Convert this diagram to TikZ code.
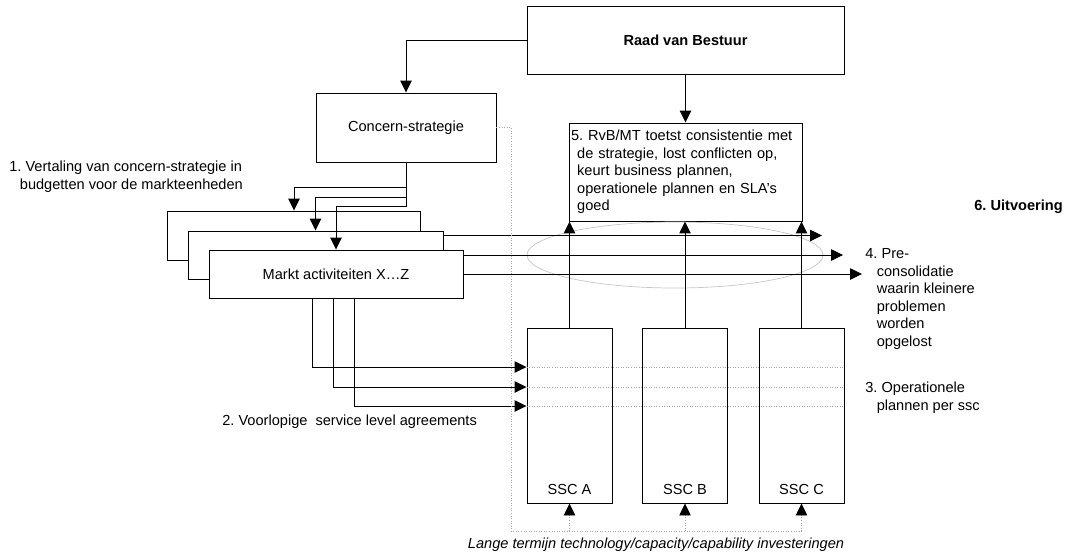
\documentclass[tikz,border=0pt]{standalone}
\usepackage{fontspec}
\setmainfont{Liberation Sans}
\usetikzlibrary{arrows.meta, positioning, shapes.geometric}
\frenchspacing

\begin{document}
\begin{tikzpicture}[x=0.02cm, y=-0.02cm,
        font=\fontsize{8.3}{10}\selectfont,
        >={Triangle[length=6.8pt, width=6.5pt]},
        blok/.style={rectangle, draw, fill=white, line width=0.55pt, inner sep=1pt},
        lijn/.style={->, line width=0.55pt},
        stip/.style={draw=gray!70, densely dotted, line width=0.45pt},
        tekst/.style={inner sep=0pt, align=left}]
    \useasboundingbox (0,0) rectangle (1077,556);
    % bestuur en strategie
    \node[blok, minimum width=6.34cm, minimum height=1.36cm, font=\fontsize{8.3}{10}\selectfont\bfseries] (rvb) at (685.5,40) {Raad van Bestuur};
    \node[blok, minimum width=3.6cm, minimum height=1.38cm] (cs) at (406,127.5) {Concern-strategie};
    \node[blok, minimum width=4.66cm, minimum height=1.96cm, text width=4.58cm, align=left] (toets) at (685.5,172)
        {5. RvB/MT toetst consistentie met\\\hspace*{3.5pt}de strategie, lost conflicten op,\\\hspace*{3.5pt}keurt business plannen,\\\hspace*{3.5pt}operationele plannen en SLA’s\\\hspace*{3.5pt}goed};
    \node[ellipse, draw=gray!45, line width=0.4pt, minimum width=5.92cm, minimum height=1.32cm] (pc) at (675,255) {};
    % markt activiteiten
    \coordinate (uit1) at (822,235.5);
    \coordinate (uit2) at (843,255);
    \coordinate (uit3) at (862,274);
    \node[blok, minimum width=5.08cm, minimum height=0.98cm] (mk1) at (294,235.5) {};
    \draw[lijn] (mk1.east) -- (uit1);
    \node[blok, minimum width=5.1cm, minimum height=0.96cm] (mk2) at (315.5,255) {};
    \draw[lijn] (mk2.east) -- (uit2);
    \node[blok, minimum width=5.08cm, minimum height=0.96cm] (mk3) at (336,274) {Markt activiteiten X…Z};
    \draw[lijn] (mk3.east) -- (uit3);
    \draw[lijn] (rvb.west) -| (cs.north);
    \draw[lijn] (rvb.south) -- (toets.north);
    \draw[lijn] (cs.south) -- ++(0,25) -| (mk1.north);
    \draw[lijn] (cs.south) -- ++(0,35) -| (mk2.north);
    \draw[lijn] (cs.south) -- ++(0,44) -| (mk3.north);
    % shared service centers
    \foreach \n/\px in {A/569.5, B/685, C/801.5} {
        \node[blok, minimum width=1.7cm, minimum height=3.5cm] (ssc\n) at (\px,415.5) {};
        \node[anchor=base, inner sep=0pt] (lbl\n) at ([yshift=0.18cm]ssc\n.south) {SSC \n};
        \draw[lijn] (ssc\n.north) -- (ssc\n.north |- toets.south);
    }
    \draw[lijn] ([xshift=-0.48cm]mk3.south) |- ([yshift=0.97cm]sscA.west);
    \draw[lijn] ([xshift=-0.06cm]mk3.south) |- ([yshift=0.57cm]sscA.west);
    \draw[lijn] ([xshift=0.36cm]mk3.south) |- ([yshift=0.19cm]sscA.west);
    \foreach \d in {0.97,0.57,0.19}
        \draw[stip] ([yshift=\d cm]sscA.west) -- ([yshift=\d cm]sscC.east);
    % investeringen
    \coordinate (invL) at (511,531);
    \draw[stip] (cs.east) -| (invL) -- (invL -| sscC.south);
    \foreach \n in {A,B,C}
        \draw[stip, -{Triangle[length=6.8pt, width=6.5pt, color=black, fill=black]}] (invL -| ssc\n.south) -- (ssc\n.south);
    \node[font=\fontsize{8.3}{10}\selectfont\itshape] (lt) at (656,545) {Lange termijn technology/capacity/capability investeringen};
    % stappen
    \node[tekst, anchor=west] (stap1) at (9,177) {1. Vertaling van concern-strategie in\\\hspace*{6pt}budgetten voor de markteenheden};
    \node[tekst, anchor=west] (stap2) at (222,422) {2. Voorlopige\ \ service level agreements};
    \node[tekst, anchor=west] (stap3) at (865,397.5) {3. Operationele\\\hspace*{6.5pt}plannen per ssc};
    \node[tekst, anchor=west] (stap4) at (865,299) {4. Pre-\\\hspace*{6.5pt}consolidatie\\\hspace*{6.5pt}waarin kleinere\\\hspace*{6.5pt}problemen\\\hspace*{6.5pt}worden\\\hspace*{6.5pt}opgelost};
    \node[tekst, anchor=west, font=\fontsize{8.3}{10}\selectfont\bfseries] (stap6) at (974,207) {6. Uitvoering};
\end{tikzpicture}
\end{document}
